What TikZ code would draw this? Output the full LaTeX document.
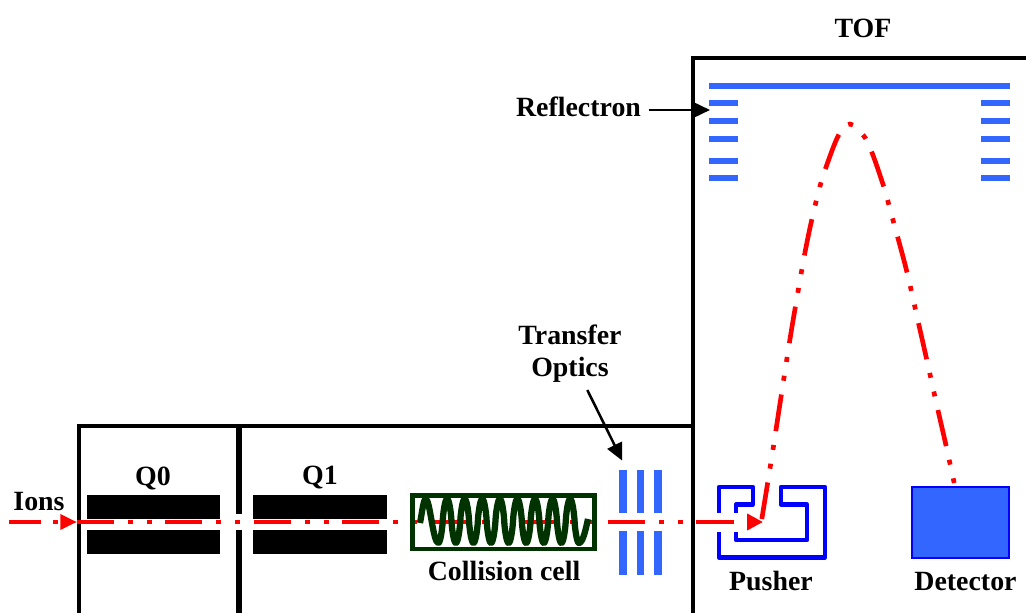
\documentclass[tikz,border=0pt]{standalone}
\usepackage{fontspec}
\setmainfont{Liberation Serif}
\usetikzlibrary{arrows.meta}
\definecolor{lens}{RGB}{51,102,255}
\definecolor{push}{RGB}{0,0,255}
\definecolor{coil}{RGB}{0,51,0}
\definecolor{ray}{RGB}{255,0,0}
\tikzset{
  x=0.75pt,y=-0.75pt,
  lbl/.style={font=\fontsize{20.9}{24}\selectfont\bfseries,inner sep=0pt,align=center,text=black},
  wall/.style={draw=black,line width=3.3pt,line join=miter},
  rod/.style={fill=black},
  plate/.style={fill=lens},
  raybase/.style={draw=ray,line width=3.5pt},
  raydash/.style={raybase,dash pattern=on 27.75pt off 10.5pt on 3.75pt off 10.5pt on 3.75pt off 10.1pt},
  raycurve/.style={raybase,dash pattern=on 27.75pt off 10.5pt on 3.75pt off 10.5pt on 3.75pt off 10.5pt},
  pointer/.style={draw=black,line width=1.9pt,-{Triangle[length=13pt,width=12pt]}},
  pushwire/.style={draw=push,line width=3.2pt,line join=round}
}
\begin{document}
\begin{tikzpicture}
\useasboundingbox (0,0) rectangle (1026,613);
\clip (0,0) rectangle (1026,613);
% walls
\draw[wall] (1026,58) -- (692.8,58) -- (692.8,613);
\draw[wall] (78.7,613) -- (78.7,426) -- (692.8,426);
\draw[wall,line width=4.4pt] (238.7,426) -- (238.7,514);
\draw[wall,line width=4.4pt] (238.7,530) -- (238.7,613);
% rods
\fill[rod] (87,495) rectangle (220.3,519);
\fill[rod] (87,530.3) rectangle (220.3,554);
\fill[rod] (253.3,495) rectangle (387,519);
\fill[rod] (253.3,530.3) rectangle (387,554);
% ion beam
\coordinate (ionstart) at (9,522);
\coordinate (ionin) at (77,522);
\coordinate (beamend) at (735,522);
\coordinate (pushin) at (697,522);
\coordinate (pushtip) at (763,522);
\draw[raybase,dash pattern=on 24pt off 9pt on 3.75pt off 200pt,-{Triangle[length=12.5pt,width=11pt,fill=ray]}] (ionstart) -- (ionin);
\draw[raydash] (ionin) -- (beamend);
\fill[white] (690.5,515) rectangle (695.1,529);
\draw[wall] (692.8,500) -- (692.8,540);
\draw[raybase,dash pattern=on 28pt off 200pt,-{Triangle[length=12pt,width=12pt,fill=ray]}] (pushin) -- (pushtip);
% collision cell
\draw[draw=coil,line width=3.5pt] (412.5,495.5) rectangle (594.5,549);
\draw[draw=coil,line width=4.7pt,line join=round]
  (420,523) .. controls (422,513) and (423.5,499) .. (425.7,499)
  .. controls (430,499) and (433,543) .. (438.3,543)
  -- plot[domain=438.3:579,samples=241] ({\x},{521+22*sign(cos((\x-438.3)/17.58*360))*pow(abs(cos((\x-438.3)/17.58*360))+0.0001,0.72)})
  .. controls (583,543) and (586,528) .. (588,519);
% transfer optics
\fill[plate] (619,470) rectangle (626.7,513.3);
\fill[plate] (636.7,470) rectangle (644,513.3);
\fill[plate] (654,470) rectangle (661.7,513.3);
\fill[plate] (619,531.3) rectangle (626.7,575);
\fill[plate] (636.7,531.3) rectangle (644,575);
\fill[plate] (654,531.3) rectangle (661.7,575);
% reflectron
\fill[plate] (709.3,82.7) rectangle (1009.5,89.3);
\foreach \yy in {103,121,139,161,178}{
  \fill[plate] (709.3,\yy-3.3) rectangle (737.7,\yy+3.3);
  \fill[plate] (981.3,\yy-3.3) rectangle (1009.5,\yy+3.3);
}
% TOF trajectory
\draw[raycurve] plot[smooth,tension=0.55] coordinates {
  (761.8,519) (767.7,482.7) (773.3,447.3) (781.3,395) (789.3,343.3) (795.3,307.3)
  (804.3,256) (811.7,220) (820,186) (825,170) (838.3,135.7) (850,124)
  (863.3,135.3) (871,150) (883.3,185.3) (892.7,219) (906.7,271) (918,321)
  (926.3,357.7) (937.3,407.3) (945.7,444) (954.2,483)};
% pusher
\draw[pushwire] (719,513) -- (719,487) -- (753,487) -- (753,504.5) -- (736,504.5) -- (736,513);
\draw[pushwire] (719,532) -- (719,557.5) -- (825,557.5) -- (825,487) -- (781,487) -- (781,504.5) -- (807,504.5) -- (807,540) -- (736,540) -- (736,532);
% detector
\draw[draw=push,fill=lens,line width=1.2pt] (912,487) rectangle (1009,558);
% labels
\node[lbl] (tof) at (863,28.5) {TOF};
\node[lbl] (reflectron) at (578.5,107) {Reflectron};
\node[lbl] (transfer) at (570,353.5) {Transfer\\Optics};
\node[lbl] (ions) at (39,502) {Ions};
\node[lbl] (q0) at (153,478) {Q0};
\node[lbl] (q1) at (320,478) {Q1};
\node[lbl] (cell) at (504,571) {Collision cell};
\node[lbl] (pusher) at (771,581) {Pusher};
\node[lbl] (detector) at (965.5,582) {Detector};
% pointers
\coordinate (reflstart) at (648.5,110);
\coordinate (refltip) at (710,110);
\coordinate (transstart) at (587.3,390);
\coordinate (transtip) at (622.3,460.7);
\draw[pointer] (reflstart) -- (refltip);
\draw[pointer] (transstart) -- (transtip);
\end{tikzpicture}
\end{document}
